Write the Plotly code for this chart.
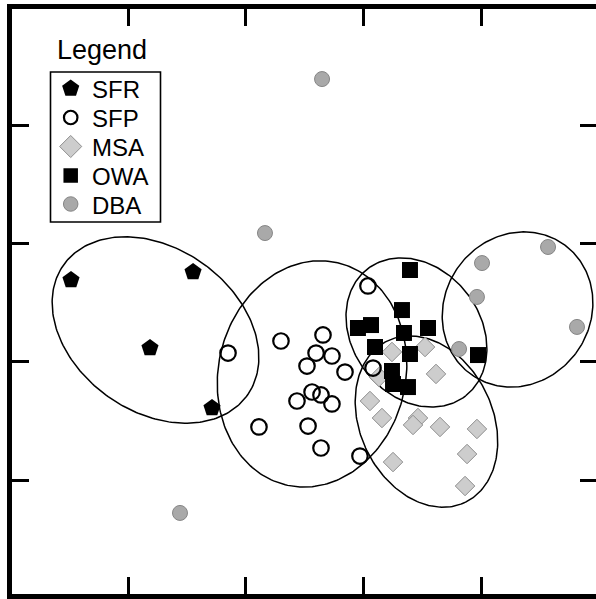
import numpy as np
import plotly.graph_objects as go

# ---------------- data (axis units, ticks at 1..4) ----------------
groups = ["SFR", "SFP", "MSA", "OWA", "DBA"]

sfr_x = [0.514, 1.551, 1.185, 1.712]
sfr_y = [2.694, 2.761, 2.118, 1.610]

sfp_x = [3.037, 1.848, 2.298, 2.655, 2.596, 2.731, 2.519, 2.842, 3.080,
         2.562, 2.638, 2.434, 2.731, 2.111, 2.528, 2.638, 2.969]
sfp_y = [2.643, 2.075, 2.177, 2.228, 2.075, 2.050, 1.965, 1.914, 1.948,
         1.745, 1.720, 1.669, 1.644, 1.449, 1.457, 1.271, 1.203]

msa_x = [3.241, 3.522, 3.615, 3.131, 3.054, 3.156, 3.462, 3.420, 3.649,
         3.963, 3.879, 3.250, 3.862]
msa_y = [2.084, 2.126, 1.898, 1.872, 1.669, 1.525, 1.525, 1.466, 1.449,
         1.432, 1.220, 1.152, 0.949]

owa_x = [3.394, 3.326, 2.952, 3.063, 3.547, 3.343, 3.097, 3.394, 3.972,
         3.241, 3.250, 3.377]
owa_y = [2.778, 2.439, 2.287, 2.312, 2.287, 2.245, 2.126, 2.067, 2.058,
         1.923, 1.813, 1.787]

dba_x = [2.647, 2.162, 1.440, 4.006, 4.567, 3.963, 4.813, 3.811]
dba_y = [4.395, 3.091, 0.721, 2.837, 2.973, 2.550, 2.296, 2.109]

# group ellipses: centre, semi-axes, rotation (degrees)
ell_cx = [1.232, 2.562, 3.534, 3.449, 4.308]
ell_cy = [2.270, 1.898, 1.495, 2.249, 2.444]
ell_a = [0.956, 0.966, 0.759, 0.680, 0.677]
ell_b = [0.693, 0.796, 0.563, 0.543, 0.619]
ell_ang = [-35.0, 77.0, -64.0, -52.0, 53.5]

tick_vals = [1, 2, 3, 4]

# ---------------- styles ----------------
FONT = "Liberation Sans, Arial, sans-serif"
styles = {
    "SFR": dict(symbol="pentagon", size=18, color="black", line=dict(color="black", width=0)),
    "SFP": dict(symbol="circle-open", size=15.5, color="black", line=dict(color="black", width=2.2)),
    "MSA": dict(symbol="diamond", size=15, color="#cdcdcd", line=dict(color="#8e8e8e", width=1)),
    "OWA": dict(symbol="square", size=16, color="black", line=dict(color="black", width=0)),
    "DBA": dict(symbol="circle", size=15, color="#a9a9a9", line=dict(color="#868686", width=1)),
}
legend_styles = {
    "SFR": dict(symbol="pentagon", size=18, color="black", line=dict(color="black", width=0)),
    "SFP": dict(symbol="circle-open", size=13.5, color="black", line=dict(color="black", width=2.2)),
    "MSA": dict(symbol="diamond", size=17, color="#cdcdcd", line=dict(color="#8e8e8e", width=1)),
    "OWA": dict(symbol="square", size=14.5, color="black", line=dict(color="black", width=0)),
    "DBA": dict(symbol="circle", size=14.5, color="#a9a9a9", line=dict(color="#868686", width=1)),
}
series = {
    "SFR": (sfr_x, sfr_y),
    "SFP": (sfp_x, sfp_y),
    "MSA": (msa_x, msa_y),
    "OWA": (owa_x, owa_y),
    "DBA": (dba_x, dba_y),
}

fig = go.Figure()

# ellipses
t = np.linspace(0, 2 * np.pi, 240)
for cx, cy, a, b, ang in zip(ell_cx, ell_cy, ell_a, ell_b, ell_ang):
    th = np.deg2rad(ang)
    ex = cx + a * np.cos(t) * np.cos(th) - b * np.sin(t) * np.sin(th)
    ey = cy + a * np.cos(t) * np.sin(th) + b * np.sin(t) * np.cos(th)
    fig.add_trace(go.Scatter(x=ex, y=ey, mode="lines",
                             line=dict(color="black", width=1.5),
                             hoverinfo="skip", showlegend=False))

# points
for g in ["MSA", "DBA", "OWA", "SFP", "SFR"]:
    xs, ys = series[g]
    fig.add_trace(go.Scatter(x=xs, y=ys, mode="markers", name=g,
                             marker=styles[g], showlegend=False))

# ---------------- axes / frame geometry ----------------
W, H = 596, 599
L, R, T, B = 12, 0, 9, 5
# pixel calibration of the original axes (tick positions)
px_x0, px_per_x = 10.5, 117.7
px_y0, px_per_y = 598.1, 118.1
x_range = [(L - px_x0) / px_per_x, (W - R - px_x0) / px_per_x]
y_range = [(px_y0 - (H - B)) / px_per_y, (px_y0 - T) / px_per_y]

# manual legend on a pixel-unit overlay axis
leg_cx = 70.7
leg_rows = [88.5, 117.5, 146.5, 175.5, 204]
for g, yy in zip(groups, leg_rows):
    fig.add_trace(go.Scatter(x=[leg_cx], y=[yy], xaxis="x2", yaxis="y2",
                             mode="markers", marker=legend_styles[g],
                             hoverinfo="skip", showlegend=False))
    fig.add_annotation(x=90, y=yy + 1, xref="x2", yref="y2", text=g,
                       showarrow=False, xanchor="left", yanchor="middle",
                       font=dict(family=FONT, size=24, color="black"))
fig.add_annotation(x=55, y=50, xref="x2", yref="y2", text="Legend",
                   showarrow=False, xanchor="left", yanchor="middle",
                   font=dict(family=FONT, size=27, color="black"))
fig.add_shape(type="rect", xref="x2", yref="y2", x0=50.5, x1=160.5, y0=72, y1=222,
              line=dict(color="black", width=1.6), fillcolor="rgba(0,0,0,0)")

# dummy trace so right-hand tick axis is drawn
fig.add_trace(go.Scatter(x=[None], y=[None], yaxis="y3", showlegend=False, hoverinfo="skip"))

fig.update_layout(
    width=W, height=H,
    margin=dict(l=L, r=R, t=T, b=B, pad=0),
    paper_bgcolor="white", plot_bgcolor="white",
    showlegend=False,
    xaxis=dict(range=x_range, tickvals=tick_vals, showticklabels=False,
               ticks="inside", ticklen=17, tickwidth=3, tickcolor="black",
               showline=True, linewidth=5, linecolor="black", mirror="ticks",
               showgrid=False, zeroline=False, fixedrange=True),
    yaxis=dict(range=y_range, tickvals=tick_vals, showticklabels=False,
               ticks="inside", ticklen=17, tickwidth=3, tickcolor="black",
               showline=True, linewidth=5, linecolor="black", mirror=False,
               showgrid=False, zeroline=False, fixedrange=True),
    yaxis3=dict(overlaying="y", side="right", matches="y", tickvals=tick_vals,
                showticklabels=False, ticks="inside", ticklen=16, tickwidth=3,
                tickcolor="black", showline=False, showgrid=False, zeroline=False),
    xaxis2=dict(overlaying="x", anchor="y2", range=[L, W - R], visible=False,
                fixedrange=True),
    yaxis2=dict(overlaying="y", anchor="x2", range=[H - B, T], visible=False,
                fixedrange=True),
)

fig.write_html("out.html", config=dict(displayModeBar=False),
               post_script="document.body.style.margin='0';document.body.style.overflow='hidden';")
